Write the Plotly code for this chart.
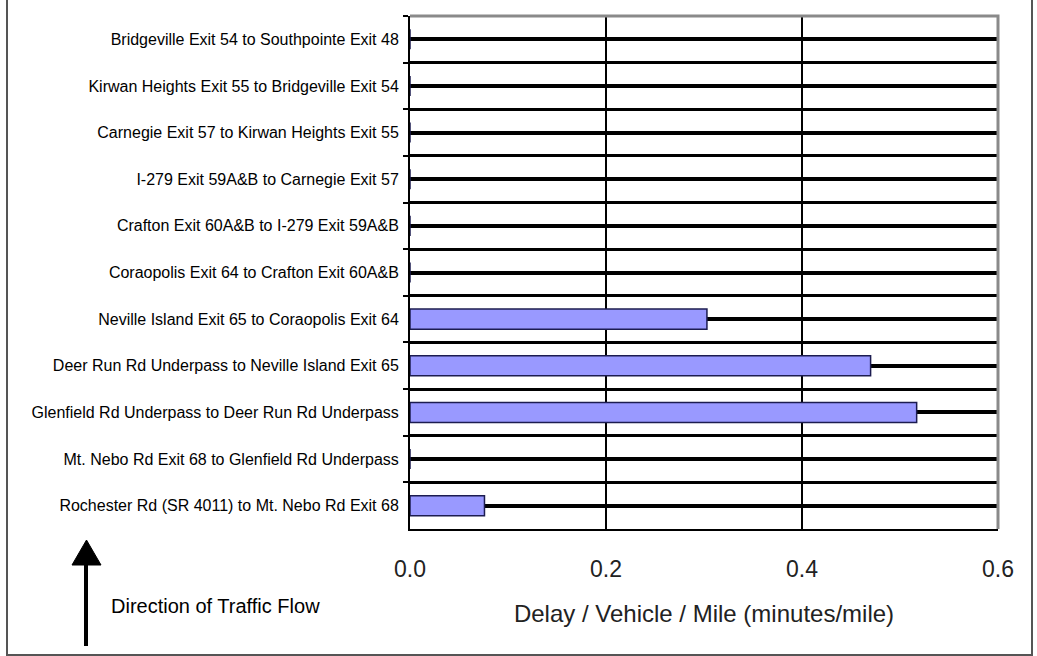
import plotly.graph_objects as go

# ---- data ----
segments = [
    "Bridgeville Exit 54 to Southpointe Exit 48",
    "Kirwan Heights Exit 55 to Bridgeville Exit 54",
    "Carnegie Exit 57 to Kirwan Heights Exit 55",
    "I-279 Exit 59A&B to Carnegie Exit 57",
    "Crafton Exit 60A&B to I-279 Exit 59A&B",
    "Coraopolis Exit 64 to Crafton Exit 60A&B",
    "Neville Island Exit 65 to Coraopolis Exit 64",
    "Deer Run Rd Underpass to Neville Island Exit 65",
    "Glenfield Rd Underpass to Deer Run Rd Underpass",
    "Mt. Nebo Rd Exit 68 to Glenfield Rd Underpass",
    "Rochester Rd (SR 4011) to Mt. Nebo Rd Exit 68",
]
delay = [0, 0, 0, 0, 0, 0, 0.303, 0.470, 0.517, 0, 0.076]
x_ticks = [0.0, 0.2, 0.4, 0.6]
x_tick_text = ["0.0", "0.2", "0.4", "0.6"]
x_title = "Delay / Vehicle / Mile (minutes/mile)"
note_text = "Direction of Traffic Flow"

W, H = 1037, 656
ML, MR, MT, MB = 410, 39, 16, 127
PW, PH = W - ML - MR, H - MT - MB


def px(x):
    return (x - ML) / PW


def py(y):
    return (H - MB - y) / PH


FONT = "Arial, Liberation Sans, sans-serif"

fig = go.Figure()
fig.add_trace(go.Bar(
    x=delay, y=segments, orientation="h", width=0.43,
    marker=dict(color="#9999FF", line=dict(color="#1c1c50", width=1.5)),
    hoverinfo="x+y", showlegend=False,
))
# invisible helper trace that anchors the centre-line grid axis
fig.add_trace(go.Scatter(
    x=[0] * len(segments), y=segments, yaxis="y2", mode="markers",
    marker=dict(opacity=0), hoverinfo="skip", showlegend=False,
))

n = len(segments)
fig.update_layout(
    width=W, height=H,
    margin=dict(l=ML, r=MR, t=MT, b=MB, pad=0),
    paper_bgcolor="white", plot_bgcolor="white",
    font=dict(family=FONT, color="black"),
    xaxis=dict(
        range=[0, 0.6], tickvals=x_ticks, ticktext=x_tick_text,
        showgrid=True, gridcolor="black", gridwidth=2,
        showline=True, linecolor="black", linewidth=2,
        ticks="", ticklabelstandoff=18,
        tickfont=dict(size=23, family=FONT, color="#222"),
        title=dict(text=x_title, font=dict(size=24, family=FONT, color="#222"), standoff=25),
        zeroline=False, fixedrange=True,
    ),
    yaxis=dict(
        type="category", categoryorder="array", categoryarray=segments,
        range=[n - 0.5, -0.5], tickson="boundaries",
        showgrid=True, gridcolor="black", gridwidth=2.5,
        showline=True, linecolor="black", linewidth=2,
        ticks="outside", ticklen=5, tickcolor="black", tickwidth=2,
        ticklabelstandoff=6,
        tickfont=dict(size=16, family=FONT),
        fixedrange=True,
    ),
    yaxis2=dict(
        type="category", categoryorder="array", categoryarray=segments,
        range=[n - 0.5, -0.5], overlaying="y", side="left",
        showgrid=True, gridcolor="black", gridwidth=3.5,
        showticklabels=False, ticks="", showline=False, fixedrange=True,
    ),
    bargap=0.57,
)

# plot-area border (top/right grey)
fig.add_shape(type="path", xref="paper", yref="paper",
              path="M 0,1 L 1,1 L 1,0", line=dict(color="#8a8a8a", width=3),
              layer="above")
# outer frame (left / right / bottom)
fig.add_shape(type="path", xref="paper", yref="paper",
              path=f"M {px(7)},{py(-5)} L {px(7)},{py(655)} L {px(1032)},{py(655)} L {px(1032)},{py(-5)}",
              line=dict(color="#555555", width=2), layer="above")
# arrow (direction of traffic flow)
fig.add_shape(type="line", xref="paper", yref="paper",
              x0=px(86), x1=px(86), y0=py(646), y1=py(560),
              line=dict(color="black", width=4))
fig.add_shape(type="path", xref="paper", yref="paper",
              path=f"M {px(72)},{py(565)} L {px(86.5)},{py(540)} L {px(101)},{py(565)} Z",
              fillcolor="black", line=dict(color="black", width=1))
fig.add_annotation(xref="paper", yref="paper", x=px(109), y=py(606),
                   xanchor="left", yanchor="middle", showarrow=False,
                   text=note_text, font=dict(size=20, family=FONT, color="black"))

fig.write_html("out.html", config={"displayModeBar": False},
               post_script="document.body.style.margin='0';")
